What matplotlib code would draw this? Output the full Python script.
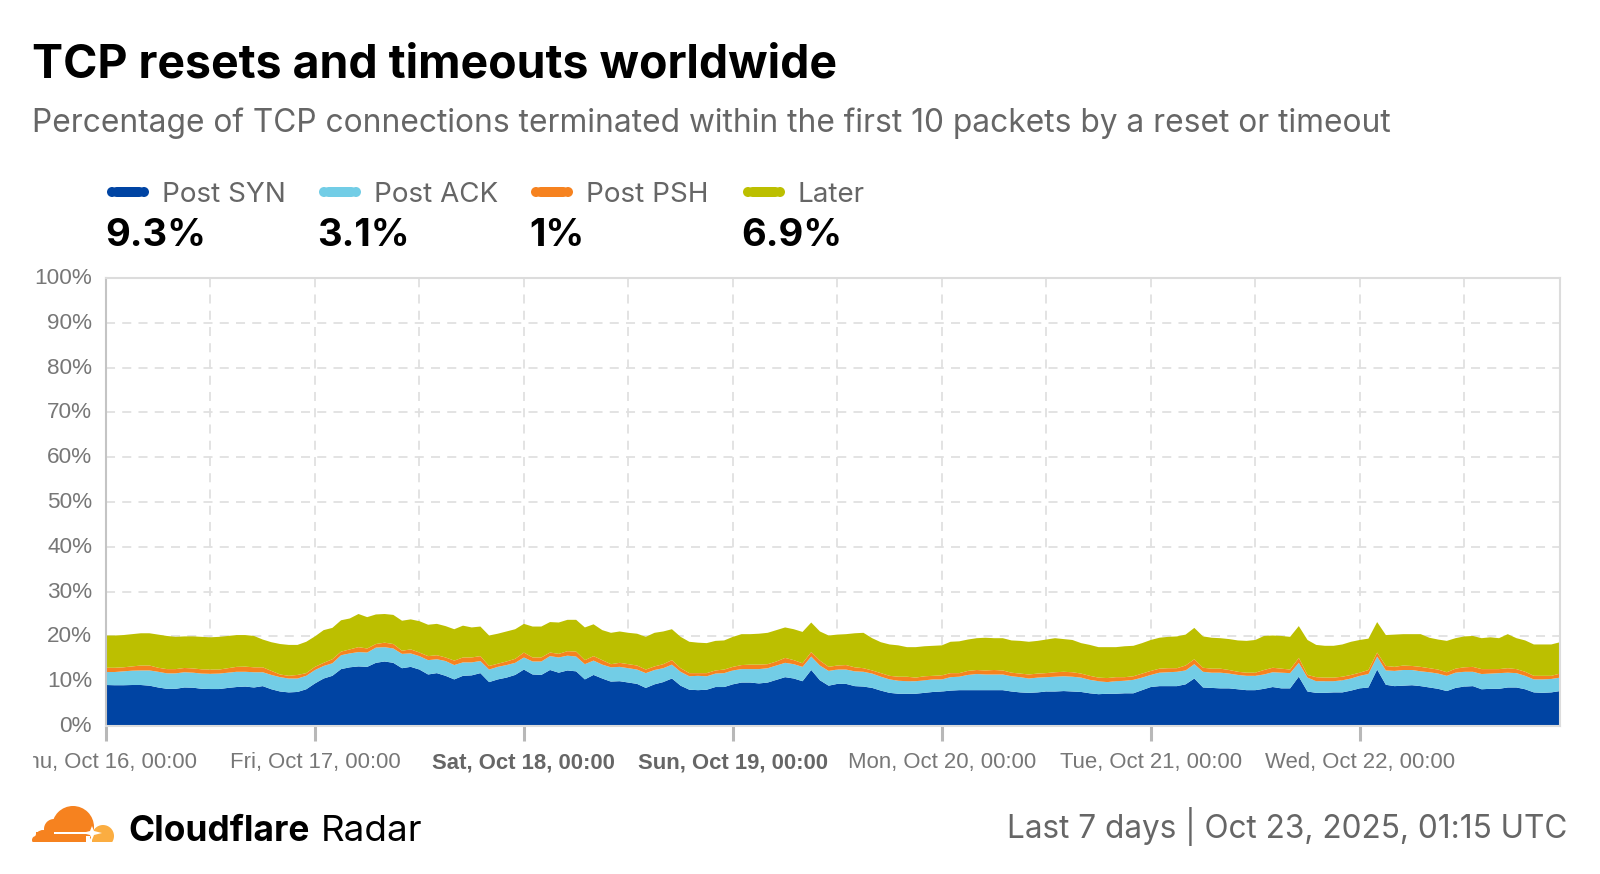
import numpy as np
import matplotlib
matplotlib.use('Agg')
from matplotlib import pyplot as plt
from matplotlib.patches import Circle, FancyBboxPatch, Rectangle, Polygon
from matplotlib.transforms import Bbox, ScaledTranslation

plt.rcParams['font.family'] = ['Inter', 'DejaVu Sans']

# Hourly readings, tops of each stacked band (percent)
post_syn = [
    9.15,9.1,9.1,9.15,9.15,9.0,8.6,8.3,8.3,8.6,8.55,8.3,8.25,8.25,8.5,8.7,8.8,8.6,8.9,8.2,7.7,7.5,7.6,8.2,
    9.5,10.6,11.2,12.7,13.1,13.3,13.2,14.1,14.4,14.1,12.9,13.2,12.6,11.5,11.8,11.2,10.4,11.2,11.3,11.8,9.8,10.4,10.8,11.4,
    12.6,11.5,11.4,12.5,11.9,12.4,12.2,10.4,11.4,10.6,9.9,10,9.7,9.4,8.5,9.3,9.8,10.6,9,8.1,8,8.1,8.7,8.7,
    9.3,9.7,9.7,9.5,9.7,10.3,10.9,10.6,10,12.5,10.2,9,9.4,9.4,8.9,8.8,8.5,7.9,7.4,7.2,7.2,7.2,7.4,7.6,
    7.7,7.9,8,8,8,8,8,8,7.7,7.5,7.4,7.5,7.7,7.7,7.8,7.7,7.6,7.3,7.1,7.2,7.2,7.3,7.3,8,
    8.7,8.9,8.9,8.9,9.3,10.6,8.6,8.5,8.4,8.4,8.2,8,8,8.3,8.7,8.4,8.4,11,7.7,7.4,7.4,7.5,7.5,7.9,
    8.4,8.6,12.6,9.2,8.9,9,9.1,8.9,8.6,8.3,7.8,8.5,8.8,8.9,8.2,8.3,8.3,8.6,8.6,8.2,7.5,7.4,7.5,7.8,
]
ack_top = [
    12.05,12.05,12.2,12.35,12.4,12.4,12.1,11.75,11.75,12,11.9,11.7,11.65,11.7,11.9,12.1,12.1,12,12,11.4,10.9,10.6,10.6,11.2,
    12.5,13.4,14,15.8,16.2,16.5,16.4,17.5,17.6,17.3,16.1,16.2,15.6,14.7,14.9,14.5,13.6,14.2,14.2,14.5,12.6,13.2,13.6,14.1,
    15.3,14.4,14.4,15.6,15.3,15.7,15.5,13.8,14.6,13.7,13.1,13.2,12.9,12.6,11.8,12.5,12.9,13.7,12.1,11.1,11.2,11.1,11.7,11.8,
    12.4,12.7,12.7,12.7,12.9,13.5,14.1,13.8,13.2,15.5,13.5,12.3,12.6,12.6,12.2,12.1,11.7,11,10.4,10.1,10,10,10.2,10.4,
    10.4,10.9,11,11.4,11.6,11.5,11.5,11.5,11.1,10.9,10.6,10.8,10.9,11,11.1,11,10.8,10.3,10,9.8,10,10.1,10.3,10.8,
    11.4,11.9,12,12.1,12.4,13.8,12.1,11.9,11.9,11.7,11.4,11.2,11.2,11.5,12,11.9,11.8,14.1,10.8,10,10,10,10.2,10.6,
    11.2,11.6,15.5,12.4,12.3,12.5,12.5,12.2,12,11.7,11.2,11.9,12.1,12.1,11.6,11.7,11.8,11.9,11.8,11.2,10.4,10.4,10.5,10.8,
]
psh_top = [
    13,13,13.1,13.3,13.5,13.5,13,12.7,12.7,12.95,12.85,12.65,12.6,12.6,12.9,13.2,13.25,13.1,13.1,12.3,11.5,11.2,11.4,11.8,
    13.2,14.1,14.9,16.6,17.1,17.6,17.3,18.3,18.6,18.3,16.8,17.1,16.4,15.6,15.8,15.3,14.6,15.3,15.3,15.6,13.4,13.9,14.4,15,
    16.4,15.3,15.3,16.4,16.1,16.7,16.6,14.7,15.6,14.7,13.8,14.1,13.8,13.5,12.6,13.3,13.8,14.7,12.9,11.8,11.8,11.8,12.4,12.6,
    13.2,13.6,13.7,13.7,13.8,14.4,15.2,14.7,14,16.5,14.6,13.2,13.5,13.6,13.1,12.9,12.4,11.8,11.2,11,11,10.8,11.1,11.2,
    11.3,11.8,11.8,12.3,12.5,12.4,12.5,12.4,11.9,11.7,11.5,11.7,11.8,12,12.1,12,11.7,11.2,10.8,10.7,10.9,10.9,11.1,11.7,
    12.3,12.8,12.9,12.9,13.5,14.9,13,12.8,12.8,12.5,12.1,11.9,11.9,12.5,13,12.8,12.6,15.2,11.4,10.9,10.8,10.8,11,11.4,
    11.9,12.5,16.4,13.4,13.2,13.5,13.4,13.2,12.9,12.6,12,12.8,13.1,13.2,12.7,12.7,12.7,12.9,12.7,12.1,11.2,11.2,11.2,11.7,
]
total_top = [
    20.2,20.2,20.3,20.5,20.7,20.7,20.4,20.1,19.9,20,20,19.9,19.8,19.9,20.1,20.3,20.3,20.1,19.3,18.7,18.3,18.1,18.1,18.8,
    20,21.4,21.9,23.6,24,25,24.3,24.9,25,24.8,23.5,23.8,23.4,22.6,22.8,22.3,21.6,22.4,22,22.2,20.2,20.6,21.1,21.6,
    22.8,22.2,22.2,23.2,23.1,23.7,23.7,22,22.7,21.4,20.8,21.1,20.8,20.6,19.9,20.8,21.1,21.6,19.9,18.8,18.6,18.5,19,19.1,
    19.9,20.5,20.5,20.6,20.8,21.4,22,21.6,21,23.1,21.1,20.2,20.4,20.5,20.7,20.8,19.6,18.7,18.2,18,17.6,17.6,17.8,17.9,
    18,18.8,18.9,19.3,19.6,19.7,19.6,19.6,19.1,19,18.8,19,19.3,19.6,19.4,19.2,18.5,18.1,17.6,17.6,17.6,17.8,17.9,18.5,
    19.2,19.7,19.9,20,20.4,21.9,20,19.7,19.6,19.4,19.1,19,19.2,20.1,20.2,20.1,19.9,22.3,19.2,18.1,17.9,17.9,18.2,18.8,
    19.2,19.5,23.2,20.3,20.4,20.5,20.5,20.5,19.7,19.3,19,19.6,20,20.1,19.6,19.8,19.6,20.5,19.6,19.1,18.2,18.2,18.2,18.7,
]

series_names = ['Post SYN', 'Post ACK', 'Post PSH', 'Later']
series_totals = ['9.3%', '3.1%', '1%', '6.9%']
series_colors = ['#0044a3', '#72cde6', '#f6821f', '#bcbf00']
day_labels = ['Thu, Oct 16, 00:00', 'Fri, Oct 17, 00:00', 'Sat, Oct 18, 00:00', 'Sun, Oct 19, 00:00',
              'Mon, Oct 20, 00:00', 'Tue, Oct 21, 00:00', 'Wed, Oct 22, 00:00']
bold_days = [2, 3]
y_ticks = [0, 10, 20, 30, 40, 50, 60, 70, 80, 90, 100]

W, H = 1600, 874
fig = plt.figure(figsize=(W / 100, H / 100), dpi=100)
ax = fig.add_axes([106 / W, 1 - 726 / H, (1560 - 106) / W, (726 - 278) / H])

# chart
syn = np.array(post_syn)
ack = np.array(ack_top) - syn
psh = np.array(psh_top) - np.array(ack_top)
later = np.array(total_top) - np.array(psh_top)
hours = np.arange(len(syn))
ax.stackplot(hours, syn, ack, psh, later, colors=series_colors, linewidth=0)

ax.set_xlim(0, 167)
ax.set_ylim(0, 100)
ax.set_axisbelow(True)
ax.set_yticks(y_ticks)
ax.set_yticklabels([f'{v}%' for v in y_ticks], family=['Liberation Sans'], fontsize=16.2, color='#777777')
ax.tick_params(axis='y', length=0, pad=10)
ax.set_xticks(np.arange(0, 168, 24))
ax.set_xticks(np.arange(12, 168, 24), minor=True)
ax.set_xticklabels(day_labels, family=['Liberation Sans'], fontsize=15.9, color='#777777')
ax.tick_params(axis='x', which='major', length=11, width=2.2, color='#b8b8b8', pad=8)
ax.tick_params(axis='x', which='minor', length=0)
ax.grid(True, which='both', color='#e0e0e0', linewidth=1.3, linestyle=(0, (5, 4)))
for s in ax.spines.values():
    s.set_color('#dcdcdc')
    s.set_linewidth(1.5)
ax.spines['left'].set_color('#c4c4c4')

for lab in ax.get_yticklabels():
    lab.set_transform(lab.get_transform() + ScaledTranslation(0, 2 / 100, fig.dpi_scale_trans))
for i, lab in enumerate(ax.get_xticklabels()):
    if i in bold_days:
        lab.set_fontweight('bold')
        lab.set_color('#666666')
# first label is cut off on the left in the original
first = ax.get_xticklabels()[0]
first.set_clip_on(True)
first.set_clip_box(Bbox([[33, 0], [W, H]]))

# overlay in pixel coords for text and logo
ov = fig.add_axes([0, 0, 1, 1], zorder=5)
ov.set_xlim(0, W)
ov.set_ylim(H, 0)
ov.axis('off')
ov.patch.set_alpha(0)

ov.text(32, 77, 'TCP resets and timeouts worldwide', fontsize=33.45, fontweight='bold', color='#000000', va='baseline')
ov.text(32, 132, 'Percentage of TCP connections terminated within the first 10 packets by a reset or timeout',
        fontsize=22.82, color='#666666', va='baseline')

legend_x = [107, 319, 531, 743]
for x0, name, val, col in zip(legend_x, series_names, series_totals, series_colors):
    ov.add_patch(FancyBboxPatch((x0 + 5, 187), 32, 10, boxstyle='round,pad=0,rounding_size=5', mutation_aspect=1,
                                fc=col, ec=col, lw=0))
    ov.add_patch(Circle((x0 + 5, 192), 5, fc=col, ec='none'))
    ov.add_patch(Circle((x0 + 37, 192), 5, fc=col, ec='none'))
    ov.text(x0 + 55, 202, name, fontsize=20, color='#666666', va='baseline')
    ov.text(x0 - 2, 246, val, fontsize=27.5, fontweight='bold', color='#000000', va='baseline')

# cloud logo
orange = '#f6821f'
light = '#fbad41'
clip = Rectangle((30, 800), 85, 42, transform=ov.transData)
parts = [
    Circle((103, 836), 11, fc=light, ec='none'),
    Rectangle((92, 833), 20, 9, fc=light, ec='none'),
    Circle((73, 827), 21, fc=orange, ec='none'),
    Circle((54, 829), 10, fc=orange, ec='none'),
    Circle((43, 838), 8, fc=orange, ec='none'),
    Rectangle((36, 832), 54, 10, fc=orange, ec='none'),
    Circle((36, 840), 4, fc=orange, ec='none'),
]
for p in parts:
    ov.add_patch(p)
    p.set_clip_path(clip)
ov.add_patch(Rectangle((54, 832), 34, 2.2, fc='white', ec='none'))
ov.add_patch(Polygon([(82, 833), (90, 831), (92, 826), (94, 831), (102, 833), (94, 835), (92, 840), (90, 835)],
                     fc='white', ec='none'))
ov.add_patch(Rectangle((86, 836), 4, 6, fc='white', ec='none'))

ov.text(128, 841, 'Cloudflare', fontsize=25.4, fontweight='bold', color='#000000', va='baseline')
ov.text(321, 841, 'Radar', fontsize=26.5, color='#000000', va='baseline')
ov.text(1567, 838, 'Last 7 days | Oct 23, 2025, 01:15 UTC', fontsize=22.7, color='#666666', va='baseline', ha='right')

fig.savefig('out.png', dpi=100)
